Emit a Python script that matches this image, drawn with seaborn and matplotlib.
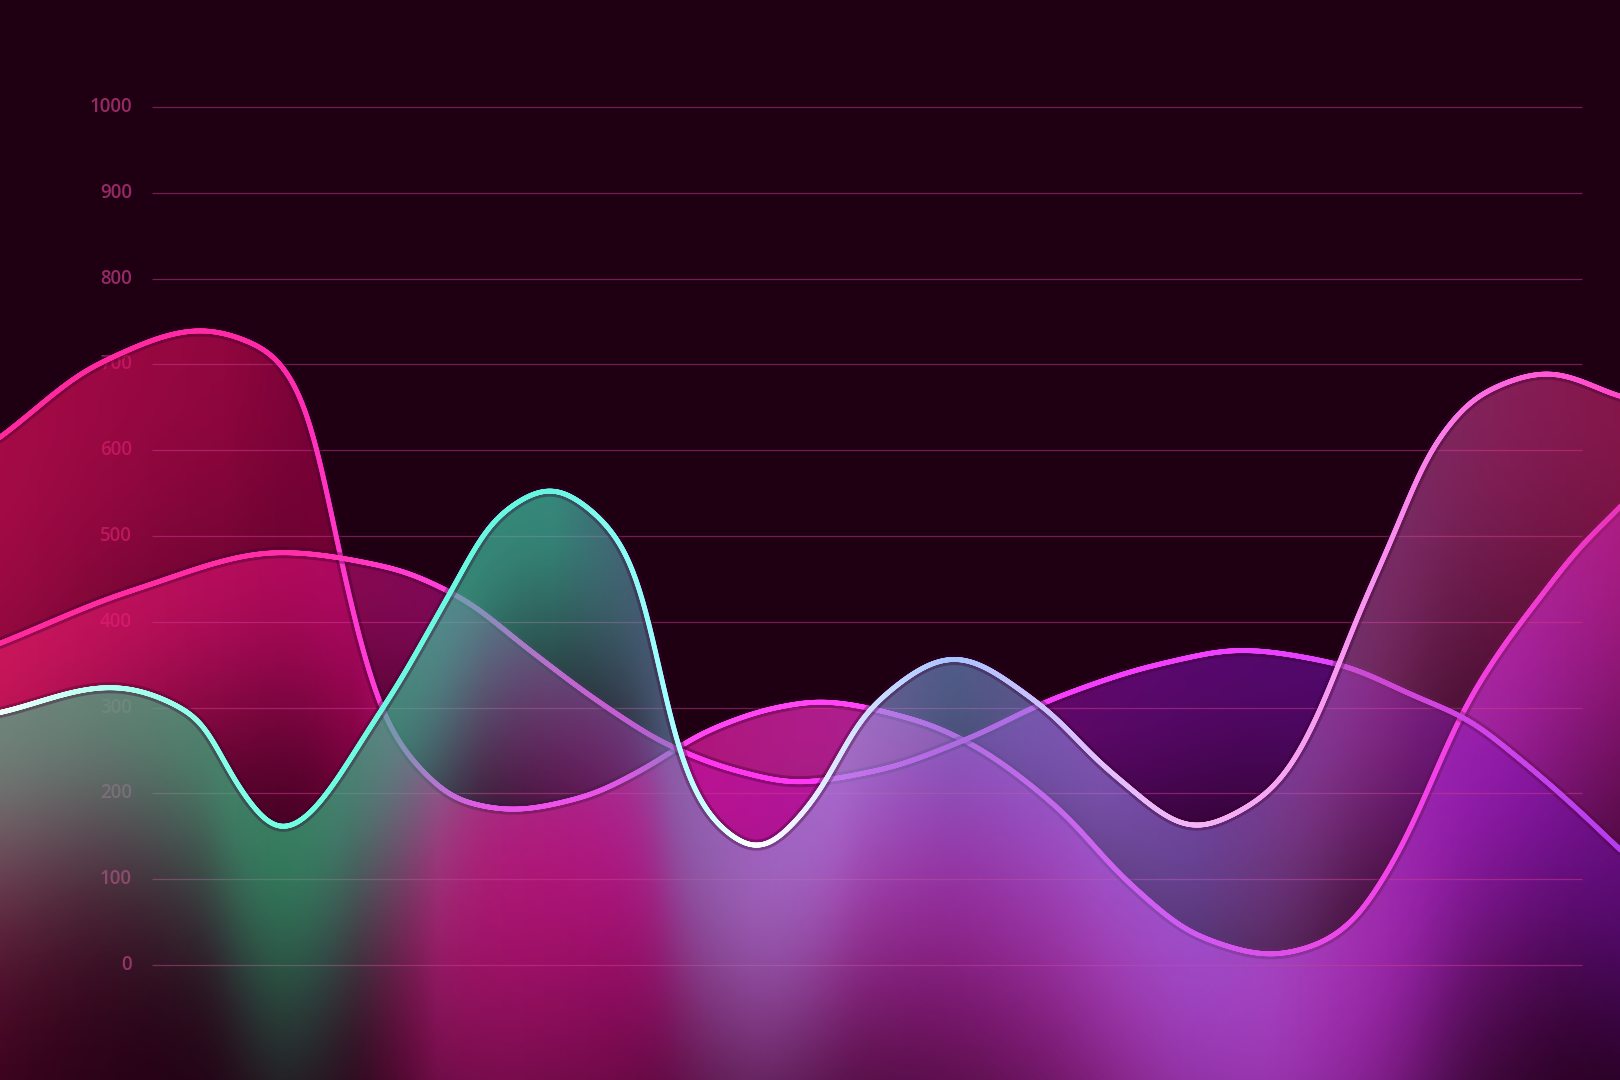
import numpy as np
import matplotlib.pyplot as plt
import seaborn as sns
from matplotlib.collections import LineCollection
from matplotlib.colors import to_rgb

# ----------------------------
# Data (x in % of the grid width, y in chart units)
# ----------------------------
rose_x = [-10.6, -3.6, 3.4, 8.0, 10.4, 11.5, 12.9, 14.5, 16.2, 19.0, 21.5, 25.2, 30.2, 33.9, 39.0,
          43.9, 46.6, 53.3, 56.8, 63.3, 68.3, 73.3, 78.3, 81.2, 83.8, 86.1, 88.0, 89.6, 91.7, 94.3,
          97.1, 99.7, 102.7]
rose_y = [615, 702, 740, 717, 667, 612, 495, 379, 289, 224, 192, 181, 196, 224, 274,
          301, 307, 286, 262, 184, 96, 33, 12, 22, 48, 100, 158, 219, 297, 367,
          429, 484, 534]

violet_x = [-10.6, -1.3, 9.0, 16.4, 21.5, 26.4, 31.4, 36.4, 41.4, 45.0, 50.8, 56.8, 63.3, 70.8,
            76.1, 82.6, 88.5, 92.0, 95.5, 99.0, 102.7]
violet_y = [375, 437, 481, 464, 429, 367, 305, 254, 224, 213, 227, 262, 312, 352,
            367, 352, 312, 286, 242, 192, 134]

aqua_x = [-10.6, -2.9, 3.4, 5.7, 9.0, 16.2, 20.7, 24.1, 27.9, 31.3, 33.9, 35.2, 36.4, 39.0, 42.4,
          45.9, 50.3, 56.1, 62.0, 67.1, 73.0, 76.8, 79.1, 81.5, 83.1, 84.5, 86.4, 89.6, 93.1,
          97.6, 102.7]
aqua_y = [294, 324, 286, 216, 157, 301, 429, 522, 555, 522, 457, 371, 270, 173, 136,
          184, 301, 358, 305, 224, 161, 186, 219, 289, 355, 414, 484, 605, 667,
          690, 662]

y_ticks = [0, 100, 200, 300, 400, 500, 600, 700, 800, 900, 1000]

# ----------------------------
# Style
# ----------------------------
BG = "#1e0012"
XLIM = (-10.63, 102.66)
YLIM = (-134.0, 1124.7)

rose_line = [(-10.6, "#ff2a9c"), (9, "#ff2aa8"), (14, "#ff3ad0"), (20, "#ff48f0"), (102.7, "#ff40ff")]
violet_line = [(-10.6, "#ff2a9c"), (10, "#ff2fa8"), (20, "#ff40d8"), (40, "#ff38f0"),
               (75, "#f040ff"), (95, "#c848ff"), (102.7, "#b040ff")]
aqua_line = [(-10.6, "#f0fff8"), (-3, "#b0fff0"), (9, "#70ffe0"), (28, "#66f5e0"), (36, "#a0ffff"),
             (42, "#ffffff"), (50, "#d0e0ff"), (56, "#a8c4ff"), (66, "#e0c0ff"), (73, "#f4b4f4"),
             (86, "#f890f0"), (97.6, "#ff58d8"), (102.7, "#ff48c8")]

# (x, colour, opacity at the line, fade depth below the line)
rose_fill = [(-10.6, "#e0105e", 0.7, 620), (5, "#d00a58", 0.65, 500), (14, "#a00048", 0.6, 450),
             (20, "#f0209a", 0.72, 450), (32, "#e81898", 0.72, 450), (45, "#e828b8", 0.72, 450),
             (62, "#e030d0", 0.74, 450), (78, "#d040f0", 0.75, 450), (95, "#c828e6", 0.68, 430),
             (102.7, "#c020d8", 0.62, 400)]
violet_fill = [(-10.6, "#f0206e", 0.6, 230), (10, "#e81080", 0.55, 230), (25, "#d010a0", 0.5, 230),
               (45, "#c010b0", 0.5, 230), (70, "#8c10b8", 0.55, 230), (102.7, "#7010c8", 0.45, 220)]
aqua_fill = [(-10.6, "#48c090", 0.65, 220), (5, "#38c488", 0.65, 240), (9, "#30c080", 0.65, 260),
             (20, "#40c0a0", 0.7, 260), (28, "#40c4a8", 0.7, 260), (35, "#6090b0", 0.6, 260),
             (42, "#9696dc", 0.6, 260), (48, "#a0a0ec", 0.6, 260), (56, "#6e94d0", 0.62, 260),
             (66, "#9888e8", 0.58, 260), (73, "#9878e8", 0.55, 280), (86, "#c050a8", 0.55, 400),
             (95, "#dc3890", 0.55, 420), (102.7, "#d82878", 0.55, 420)]


def pchip(x, y, xs):
    x = np.asarray(x, float)
    y = np.asarray(y, float)
    h = np.diff(x)
    delta = np.diff(y) / h
    n = len(x)
    d = np.zeros(n)
    for k in range(1, n - 1):
        if delta[k - 1] * delta[k] > 0:
            w1 = 2 * h[k] + h[k - 1]
            w2 = h[k] + 2 * h[k - 1]
            d[k] = (w1 + w2) / (w1 / delta[k - 1] + w2 / delta[k])
    d[0] = delta[0]
    d[-1] = delta[-1]
    idx = np.clip(np.searchsorted(x, xs) - 1, 0, n - 2)
    t = (xs - x[idx]) / h[idx]
    h00 = 2 * t**3 - 3 * t**2 + 1
    h10 = t**3 - 2 * t**2 + t
    h01 = -2 * t**3 + 3 * t**2
    h11 = t**3 - t**2
    return h00 * y[idx] + h10 * h[idx] * d[idx] + h01 * y[idx + 1] + h11 * h[idx] * d[idx + 1]


XS = np.linspace(XLIM[0] - 4, XLIM[1] + 4, 4000)


def smooth(x, y, sigma=0.9):
    ys = pchip(x, y, XS)
    dx = XS[1] - XS[0]
    k = int(4 * sigma / dx)
    kern = np.exp(-0.5 * (np.arange(-k, k + 1) * dx / sigma) ** 2)
    kern /= kern.sum()
    return np.convolve(np.pad(ys, k, mode="edge"), kern, mode="valid")


def color_ramp(stops, xs):
    px = [s[0] for s in stops]
    rgb = np.array([to_rgb(s[1]) for s in stops])
    out = np.stack([np.interp(xs, px, rgb[:, i]) for i in range(3)], axis=1)
    if len(stops[0]) > 2:
        return out, np.interp(xs, px, [s[2] for s in stops]), np.interp(xs, px, [s[3] for s in stops])
    return out


W, H = 1620, 1080
cols = XLIM[0] + (np.arange(W) + 0.5) / W * (XLIM[1] - XLIM[0])
rows = YLIM[0] + (np.arange(H) + 0.5) / H * (YLIM[1] - YLIM[0])
px_v = (YLIM[1] - YLIM[0]) / H


def gradient_fill(ax, ys, stops, z):
    curve = np.interp(cols, XS, ys)
    rgb, a_top, depth = color_ramp(stops, cols)
    d = curve[None, :] - rows[:, None]
    edge = np.clip(d / px_v + 0.5, 0, 1)
    fade = np.exp(-(np.clip(d, 0, None) / depth[None, :]) ** 2)
    img = np.zeros((H, W, 4))
    img[..., :3] = rgb[None, :, :]
    img[..., 3] = edge * fade * a_top[None, :]
    ax.imshow(img, extent=(XLIM[0], XLIM[1], YLIM[0], YLIM[1]), origin="lower",
              aspect="auto", interpolation="bilinear", zorder=z)


def gradient_line(ax, ys, stops, z):
    # soft dark halo under the stroke
    sns.lineplot(x=XS, y=ys, color="#3a0030", linewidth=8, alpha=0.35, estimator=None,
                 sort=False, ax=ax, zorder=z)
    pts = np.column_stack([XS, ys]).reshape(-1, 1, 2)
    segs = np.concatenate([pts[:-1], pts[1:]], axis=1)
    seg_cols = color_ramp(stops, (XS[:-1] + XS[1:]) / 2)
    lc = LineCollection(segs, colors=seg_cols, linewidths=3.5, capstyle="round", zorder=z + 0.1)
    ax.add_collection(lc)


sns.set_theme(style="dark", rc={"axes.facecolor": BG, "figure.facecolor": BG})
plt.rcParams["font.family"] = ["Open Sans", "DejaVu Sans"]

fig = plt.figure(figsize=(16.2, 10.8), dpi=100)
ax = fig.add_axes([0, 0, 1, 1])
ax.set_facecolor(BG)
ax.set_xlim(*XLIM)
ax.set_ylim(*YLIM)
ax.axis("off")

rose = smooth(rose_x, rose_y)
violet = smooth(violet_x, violet_y)
aqua = smooth(aqua_x, aqua_y)

# axis labels (sit under the areas)
for t in y_ticks:
    ax.text(-1.4, t, str(t), ha="right", va="center", fontsize=13.5, fontweight="semibold",
            color="#962a66", zorder=1)

gradient_fill(ax, rose, rose_fill, 2)
gradient_fill(ax, violet, violet_fill, 3)

ax.hlines(y_ticks, 0, 100, color="#d03890", alpha=0.5, linewidth=0.9, zorder=4)

gradient_line(ax, rose, rose_line, 5)
gradient_line(ax, violet, violet_line, 6)

gradient_fill(ax, aqua, aqua_fill, 7)
gradient_line(ax, aqua, aqua_line, 8)

fig.savefig("out.png", dpi=100, facecolor=BG)
